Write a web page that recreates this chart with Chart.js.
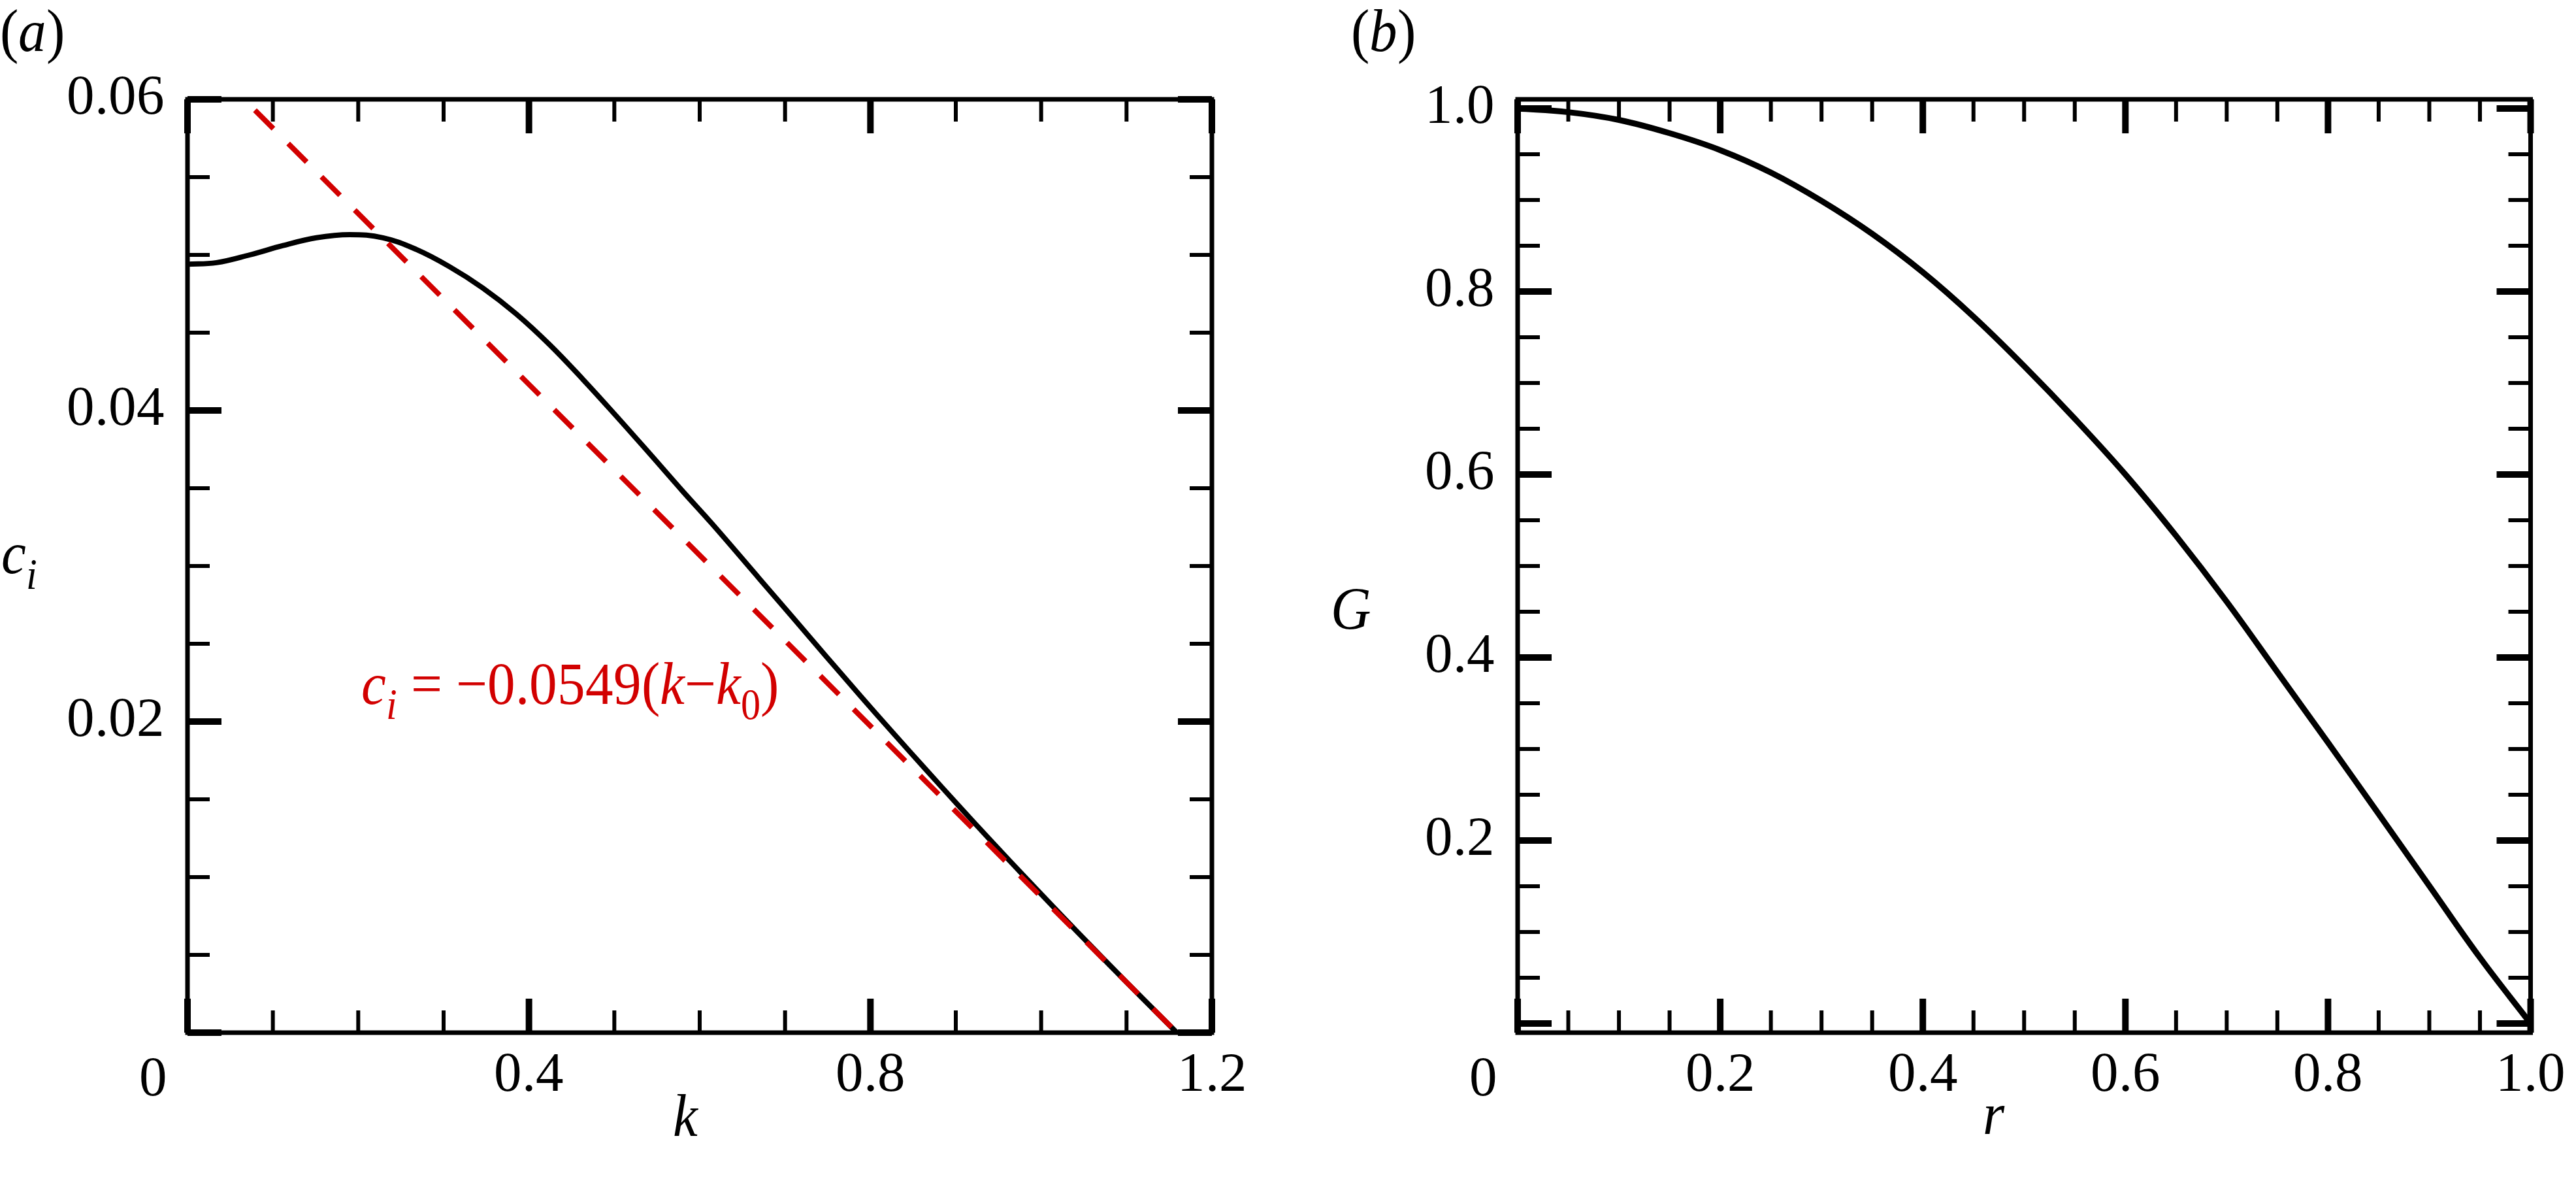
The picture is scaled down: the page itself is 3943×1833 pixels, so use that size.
<!DOCTYPE html>
<html>
<head>
<meta charset="utf-8">
<script src="https://cdn.jsdelivr.net/npm/chart.js@4.4.1/dist/chart.umd.min.js"></script>
<style>
    @font-face { font-family: 'SerifLocal'; font-style: normal; src: local('Liberation Serif'), local('LiberationSerif'), local('Times New Roman'); }
    @font-face { font-family: 'SerifLocal'; font-style: italic; src: local('Liberation Serif Italic'), local('LiberationSerif-Italic'), local('Times New Roman Italic'); }
    html, body { margin: 0; padding: 0; background: #fff; }
    #wrap { position: relative; width: 3943px; height: 1833px; }
    canvas { position: absolute; top: 0; }
    #chartA { left: 0; }
    #chartB { left: 1950px; }
</style>
</head>
<body>
<div id="wrap">
    <canvas id="chartA" width="1950" height="1833"></canvas>
    <canvas id="chartB" width="1993" height="1833"></canvas>
</div>
<script>
// ---- panel (a): c_i against k ----
const kValues = [0, 0.034, 0.073, 0.112, 0.151, 0.19, 0.229, 0.268, 0.307, 0.346, 0.385, 0.424, 0.463, 0.502, 0.541, 0.58, 0.615, 0.67, 0.709, 0.748, 0.787, 0.826, 0.865, 0.904, 0.943, 0.982, 1.021, 1.06, 1.099, 1.138, 1.159];
const ciValues = [0.0494, 0.0495, 0.05, 0.0506, 0.0511, 0.0513, 0.0511, 0.05035, 0.04924, 0.04787, 0.04621, 0.04424, 0.04201, 0.03966, 0.03725, 0.03481, 0.03268, 0.02918, 0.0267, 0.0242, 0.02173, 0.0193, 0.01691, 0.01455, 0.01223, 0.00995, 0.0077, 0.00548, 0.0033, 0.00115, 0];

// red dashed fit, its two end points
const fitK = [0.079, 1.159];
const fitCi = [0.0593, 0];

const kTicks = [0, 0.4, 0.8, 1.2];
const kTickLabels = ['0', '0.4', '0.8', '1.2'];
const kMinorTicks = [0.1, 0.2, 0.3, 0.5, 0.6, 0.7, 0.9, 1.0, 1.1];
const ciTicks = [0, 0.02, 0.04, 0.06];
const ciTickLabels = ['', '0.02', '0.04', '0.06'];
const ciMinorTicks = [0.005, 0.01, 0.015, 0.025, 0.03, 0.035, 0.045, 0.05, 0.055];

// ---- panel (b): G against r ----
const rValues = [0, 0.05, 0.1, 0.15, 0.2, 0.25, 0.3, 0.35, 0.4, 0.45, 0.5, 0.55, 0.6, 0.65, 0.7, 0.75, 0.8, 0.85, 0.9, 0.95, 1.0];
const gValues = [1.0, 0.996, 0.9875, 0.973, 0.9545, 0.93, 0.899, 0.863, 0.821, 0.7725, 0.7185, 0.661, 0.6, 0.533, 0.461, 0.384, 0.307, 0.229, 0.1505, 0.072, 0.0];

const rTicks = [0, 0.2, 0.4, 0.6, 0.8, 1.0];
const rTickLabels = ['0', '0.2', '0.4', '0.6', '0.8', '1.0'];
const rMinorTicks = [0.05, 0.1, 0.15, 0.25, 0.3, 0.35, 0.45, 0.5, 0.55, 0.65, 0.7, 0.75, 0.85, 0.9, 0.95];
const gTicks = [0, 0.2, 0.4, 0.6, 0.8, 1.0];
const gTickLabels = ['', '0.2', '0.4', '0.6', '0.8', '1.0'];
const gMinorTicks = [0.05, 0.1, 0.15, 0.25, 0.3, 0.35, 0.45, 0.5, 0.55, 0.65, 0.7, 0.75, 0.85, 0.9, 0.95];

const serif = 'SerifLocal, "Liberation Serif", "Times New Roman", serif';
const red = '#d20000';
const fontSize = 85;
const subSize = 60;
const stretch = 1.08;   // the original lettering is a bit taller than wide

// write a row of text pieces (italic / subscript) one after the other
function drawRuns(ctx, x, y, runs, color, align) {
    ctx.save();
    ctx.translate(0, y);
    ctx.scale(1, stretch);
    ctx.fillStyle = color;
    ctx.textBaseline = 'alphabetic';
    ctx.textAlign = 'left';
    if (align === 'center') {
        let w = 0;
        runs.forEach(r => {
            ctx.font = (r.italic ? 'italic ' : '') + (r.size || fontSize) + 'px ' + serif;
            w += ctx.measureText(r.text).width;
        });
        x -= w / 2;
    }
    runs.forEach(r => {
        ctx.font = (r.italic ? 'italic ' : '') + (r.size || fontSize) + 'px ' + serif;
        ctx.fillText(r.text, x, (r.dy || 0) / stretch);
        x += ctx.measureText(r.text).width;
    });
    ctx.restore();
}

// frame, inward ticks on all four sides, and the extra texts
const frameTicks = {
    id: 'frameTicks',
    afterDatasetsDraw(chart, args, opts) {
        const ctx = chart.ctx;
        const a = chart.chartArea;
        const xs = chart.scales.x;
        const ys = chart.scales.y;
        ctx.save();
        ctx.strokeStyle = '#000';
        ctx.lineCap = 'butt';

        function xTicks(vals, len, w) {
            ctx.lineWidth = w;
            vals.forEach(v => {
                const px = xs.getPixelForValue(v);
                ctx.beginPath();
                ctx.moveTo(px, a.bottom); ctx.lineTo(px, a.bottom - len);
                ctx.moveTo(px, a.top); ctx.lineTo(px, a.top + len);
                ctx.stroke();
            });
        }
        function yTicks(vals, len, w) {
            ctx.lineWidth = w;
            vals.forEach(v => {
                const py = ys.getPixelForValue(v);
                ctx.beginPath();
                ctx.moveTo(a.left, py); ctx.lineTo(a.left + len, py);
                ctx.moveTo(a.right, py); ctx.lineTo(a.right - len, py);
                ctx.stroke();
            });
        }
        xTicks(opts.xMinor, 34, 6);
        yTicks(opts.yMinor, 34, 6);
        xTicks(opts.xMajor, 52, 10);
        yTicks(opts.yMajor, 52, 10);

        ctx.lineWidth = 7;
        ctx.strokeRect(a.left, a.top, a.right - a.left, a.bottom - a.top);

        // the "0" under the corner sits a little to the left
        ctx.fillStyle = '#000';
        ctx.textAlign = 'center';
        ctx.textBaseline = 'alphabetic';
        ctx.font = fontSize + 'px ' + serif;
        ctx.fillText(opts.zeroLabel, xs.getPixelForValue(0) - 53, 1676);

        opts.texts.forEach(t => {
            drawRuns(ctx, t.x, t.y, t.runs, t.color || '#000', t.center ? 'center' : 'left');
        });
        ctx.restore();
    }
};

function fixedTicks(values) {
    return function (scale) {
        scale.ticks = values.map(v => ({ value: v }));
    };
}

function makeChart(id, cfg) {
    return new Chart(document.getElementById(id), {
        type: 'scatter',
        data: { datasets: cfg.datasets },
        options: {
            responsive: false,
            animation: false,
            devicePixelRatio: 1,
            layout: { padding: { top: 152, right: cfg.rightPad, left: 0, bottom: 0 } },
            plugins: {
                legend: { display: false },
                tooltip: { enabled: false },
                frameTicks: cfg.frame
            },
            scales: {
                x: {
                    type: 'linear',
                    position: 'bottom',
                    min: cfg.xMin, max: cfg.xMax,
                    afterBuildTicks: fixedTicks(cfg.xTicks),
                    afterFit: s => { s.height = 253; },
                    grid: { display: false, drawTicks: false },
                    border: { display: false },
                    ticks: {
                        autoSkip: false, maxRotation: 0, minRotation: 0,
                        padding: 16, color: '#000',
                        font: { family: serif, size: fontSize },
                        callback: (v, i) => (i === 0 ? '' : cfg.xLabels[i])
                    }
                },
                y: {
                    type: 'linear',
                    min: cfg.yMin, max: cfg.yMax,
                    afterBuildTicks: fixedTicks(cfg.yTicks),
                    afterFit: s => { s.width = cfg.yWidth; },
                    grid: { display: false, drawTicks: false },
                    border: { display: false },
                    ticks: {
                        autoSkip: false, padding: 35, color: '#000',
                        font: { family: serif, size: fontSize },
                        callback: (v, i) => cfg.yLabels[i]
                    }
                }
            }
        },
        plugins: [frameTicks]
    });
}

function drawAll() {
    makeChart('chartA', {
        datasets: [
            {
                data: fitK.map((k, i) => ({ x: k, y: fitCi[i] })),
                showLine: true, pointRadius: 0,
                borderColor: red, borderWidth: 8, borderDash: [40, 32]
            },
            {
                data: kValues.map((k, i) => ({ x: k, y: ciValues[i] })),
                showLine: true, pointRadius: 0,
                borderColor: '#000', borderWidth: 8,
                tension: 0.4
            }
        ],
        xMin: 0, xMax: 1.2, yMin: 0, yMax: 0.06,
        xTicks: kTicks, xLabels: kTickLabels,
        yTicks: ciTicks, yLabels: ciTickLabels,
        yWidth: 287, rightPad: 95,
        frame: {
            xMajor: kTicks, xMinor: kMinorTicks, yMajor: ciTicks, yMinor: ciMinorTicks,
            zeroLabel: kTickLabels[0],
            texts: [
                { x: 0, y: 78, runs: [{ text: '(' }, { text: 'a', italic: true }, { text: ')' }] },
                { x: 2, y: 877, runs: [{ text: 'c', italic: true }, { text: 'i', italic: true, size: subSize, dy: 24 }] },
                { x: 1049, y: 1738, center: true, runs: [{ text: 'k', italic: true }] },
                {
                    x: 553, y: 1077, color: red,
                    runs: [
                        { text: 'c', italic: true },
                        { text: 'i', italic: true, size: subSize, dy: 23 },
                        { text: ' = \u22120.0549(' },
                        { text: 'k', italic: true },
                        { text: '\u2212' },
                        { text: 'k', italic: true },
                        { text: '0', size: subSize, dy: 23 },
                        { text: ')' }
                    ]
                }
            ]
        }
    });

    makeChart('chartB', {
        datasets: [
            {
                data: rValues.map((r, i) => ({ x: r, y: gValues[i] })),
                showLine: true, pointRadius: 0,
                borderColor: '#000', borderWidth: 9,
                tension: 0.4
            }
        ],
        xMin: 0, xMax: 1.0, yMin: -0.01, yMax: 1.01,
        xTicks: rTicks, xLabels: rTickLabels,
        yTicks: gTicks, yLabels: gTickLabels,
        yWidth: 373, rightPad: 61,
        frame: {
            xMajor: rTicks, xMinor: rMinorTicks, yMajor: gTicks, yMinor: gMinorTicks,
            zeroLabel: rTickLabels[0],
            texts: [
                { x: 118, y: 78, runs: [{ text: '(' }, { text: 'b', italic: true }, { text: ')' }] },
                { x: 117, y: 962, center: true, runs: [{ text: 'G', italic: true }] },
                { x: 1101, y: 1735, center: true, runs: [{ text: 'r', italic: true }] }
            ]
        }
    });
}

// wait for the serif faces before drawing, but never for long
const fontsReady = Promise.all([
    document.fonts.load('85px SerifLocal'),
    document.fonts.load('italic 85px SerifLocal')
]).catch(() => {});
const timeout = new Promise(resolve => setTimeout(resolve, 1500));
Promise.race([fontsReady, timeout]).then(drawAll);
</script>
</body>
</html>
